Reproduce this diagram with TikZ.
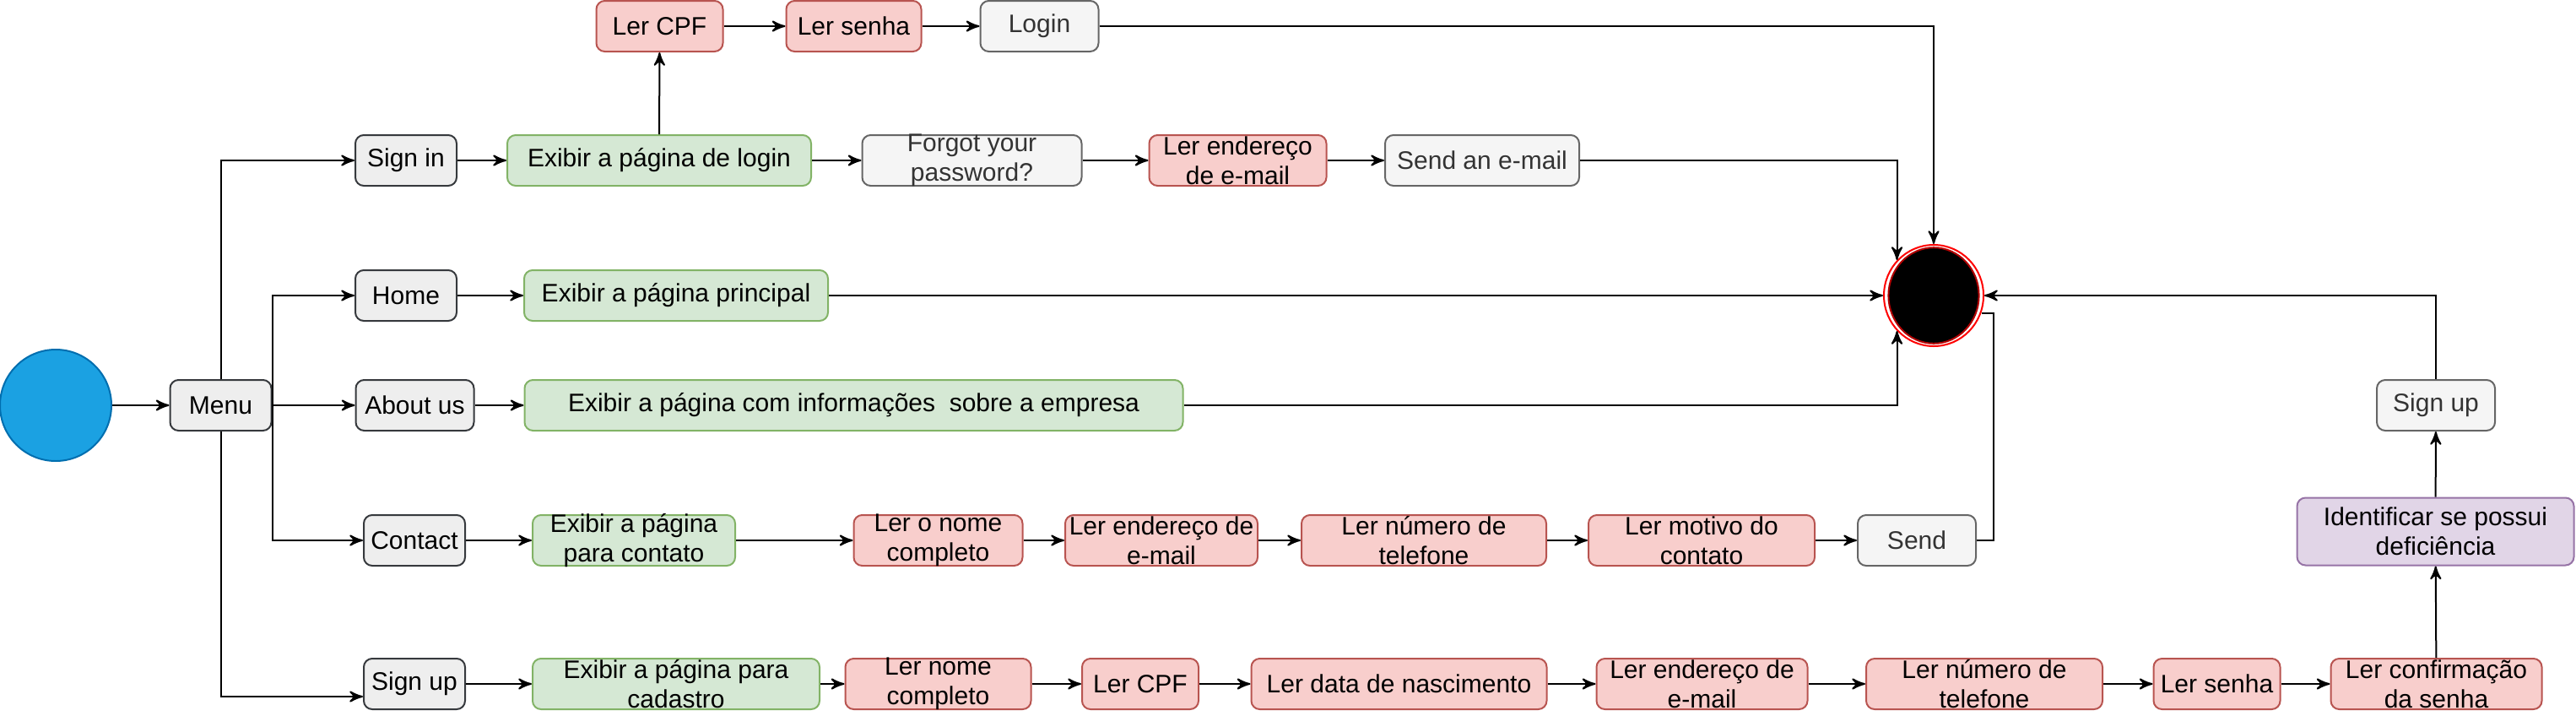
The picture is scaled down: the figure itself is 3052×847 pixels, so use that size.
\documentclass[tikz,border=0pt]{standalone}
\usepackage{fontspec}
\setmainfont{Liberation Sans}
\usetikzlibrary{arrows,shapes.geometric}

\definecolor{cinzaA}{HTML}{EEEEEE}
\definecolor{cinzaAb}{HTML}{36393D}
\definecolor{cinzaB}{HTML}{F5F5F5}
\definecolor{cinzaBb}{HTML}{666666}
\definecolor{cinzaTxt}{HTML}{333333}
\definecolor{verdeF}{HTML}{D5E8D4}
\definecolor{verdeB}{HTML}{82B366}
\definecolor{vermF}{HTML}{F8CECC}
\definecolor{vermB}{HTML}{B85450}
\definecolor{roxoF}{HTML}{E1D5E7}
\definecolor{roxoB}{HTML}{9673A6}
\definecolor{azulF}{HTML}{1BA1E2}
\definecolor{azulB}{HTML}{006EAF}

\begin{document}
\begin{tikzpicture}[>=stealth',x=0.25pt,y=-0.25pt,line width=0.5pt,
	caixa/.style={rectangle,rounded corners=2.5pt,inner xsep=1pt,inner ysep=-1pt,minimum height=15pt,align=center,font=\fontsize{7.5}{8.75}\selectfont},
	menubox/.style={caixa,fill=cinzaA,draw=cinzaAb},
	cinza/.style={caixa,fill=cinzaB,draw=cinzaBb,text=cinzaTxt},
	verde/.style={caixa,fill=verdeF,draw=verdeB},
	verm/.style={caixa,fill=vermF,draw=vermB},
	roxo/.style={caixa,fill=roxoF,draw=roxoB}]
	\useasboundingbox (0,0) rectangle (3052,847);

	% inicio e menu
	\node[circle,fill=azulF,draw=azulB,minimum size=33pt,inner sep=0] (inicio) at (66,480) {};
	\node[menubox,minimum width=30pt] (menu) at (261.5,480) {Menu};
	\node[menubox,minimum width=30pt] (signin) at (481,190) {Sign in};
	\node[menubox,minimum width=30pt] (home) at (481,350) {Home};
	\node[menubox,minimum width=35pt] (about) at (491.5,480) {About us};
	\node[menubox,minimum width=30pt] (contact) at (491,640) {Contact};
	\node[menubox,minimum width=30pt] (signup) at (491,810) {Sign up};

	% fim
	\node[ellipse,draw=red,fill=white,minimum width=29.5pt,minimum height=30pt,inner sep=0] (fim) at (2291,350) {};
	\node[ellipse,draw=red!70!black,fill=black,minimum width=26.8pt,minimum height=28.4pt,inner sep=0] (fimin) at (fim) {};

	% login
	\node[verde,minimum width=90pt] (exLogin) at (781,190) {Exibir a página de login};
	\node[verm,minimum width=37.5pt] (lerCPF) at (781.5,31) {Ler CPF};
	\node[verm,minimum width=40pt] (lerSenha) at (1011.5,31) {Ler senha};
	\node[cinza,minimum width=35pt] (login) at (1231.5,31) {Login};
	\node[cinza,minimum width=65pt] (forgot) at (1151.5,190) {Forgot your\\password?};
	\node[verm,minimum width=52.5pt] (lerEmail) at (1466.5,190) {Ler endereço\\de e-mail};
	\node[cinza,minimum width=57.5pt] (sendMail) at (1756,190) {Send an e-mail};

	% home e about
	\node[verde,minimum width=90pt] (exPrincipal) at (801,350) {Exibir a página principal};
	\node[verde,minimum width=195pt] (exInfo) at (1011.5,480) {Exibir a página com informações\ \ sobre a empresa};

	% contato
	\node[verde,minimum width=60pt] (exContato) at (751,640) {Exibir a página\\para contato};
	\node[verm,minimum width=50pt] (lerNomeC) at (1111.5,640) {Ler o nome\\completo};
	\node[verm,minimum width=57pt] (lerEmailC) at (1376,640) {Ler endereço de\\e-mail};
	\node[verm,minimum width=72.5pt] (lerFoneC) at (1687,640) {Ler número de\\telefone};
	\node[verm,minimum width=67pt] (lerMotivo) at (2016,640) {Ler motivo do\\contato};
	\node[cinza,minimum width=35pt] (send) at (2271,640) {Send};

	% cadastro
	\node[verde,minimum width=85pt] (exCadastro) at (801,810) {Exibir a página para\\cadastro};
	\node[verm,minimum width=55pt] (lerNome) at (1111.5,810) {Ler nome\\completo};
	\node[verm,minimum width=34.5pt] (lerCPF2) at (1351,810) {Ler CPF};
	\node[verm,minimum width=87.5pt] (lerData) at (1657.5,810) {Ler data de nascimento};
	\node[verm,minimum width=62.5pt] (lerEmail2) at (2016.5,810) {Ler endereço de\\e-mail};
	\node[verm,minimum width=70pt] (lerFone2) at (2351,810) {Ler número de\\telefone};
	\node[verm,minimum width=37.5pt] (lerSenha2) at (2626.5,810) {Ler senha};
	\node[verm,minimum width=62.5pt] (lerConf) at (2886.5,810) {Ler confirmação\\da senha};
	\node[roxo,minimum width=82pt,minimum height=20pt] (identif) at (2885.5,629.5) {Identificar se possui\\deficiência};
	\node[cinza,minimum width=35pt] (signup2) at (2886,480) {Sign up};

	% ligacoes
	\draw[->] (inicio) -- (menu);
	\draw[->] (menu) -- (about);
	\draw[->] (menu.north) |- (signin.west);
	\draw[->] (menu.east) |- (home.west);
	\draw[->] (menu.east) |- (contact.west);
	\draw[->] (menu.south) |- ([yshift=-3.75pt]signup.west);

	\draw[->] (signin) -- (exLogin);
	\draw[->] (exLogin) -- (lerCPF);
	\draw[->] (lerCPF) -- (lerSenha);
	\draw[->] (lerSenha) -- (login);
	\draw[->] (login.east) -| (fim.north);
	\draw[->] (exLogin) -- (forgot);
	\draw[->] (forgot) -- (lerEmail);
	\draw[->] (lerEmail) -- (sendMail);
	\draw[->] (sendMail.east) -| (fim.136);

	\draw[->] (home) -- (exPrincipal);
	\draw[->] (exPrincipal) -- (fim.west);
	\draw[->] (about) -- (exInfo);
	\draw[->] (exInfo.east) -| (fim.224);

	\draw[->] (contact) -- (exContato);
	\draw[->] (exContato) -- (lerNomeC);
	\draw[->] (lerNomeC) -- (lerEmailC);
	\draw[->] (lerEmailC) -- (lerFoneC);
	\draw[->] (lerFoneC) -- (lerMotivo);
	\draw[->] (lerMotivo) -- (send);
	\draw (send.east) -- ++(20,0) |- (fim.340);

	\draw[->] (signup) -- (exCadastro);
	\draw[->] (exCadastro) -- (lerNome);
	\draw[->] (lerNome) -- (lerCPF2);
	\draw[->] (lerCPF2) -- (lerData);
	\draw[->] (lerData) -- (lerEmail2);
	\draw[->] (lerEmail2) -- (lerFone2);
	\draw[->] (lerFone2) -- (lerSenha2);
	\draw[->] (lerSenha2) -- (lerConf);
	\draw[->] (lerConf) -- (identif);
	\draw[->] (identif) -- (signup2);
	\draw[->] (signup2.north) |- (fim.east);
\end{tikzpicture}
\end{document}
